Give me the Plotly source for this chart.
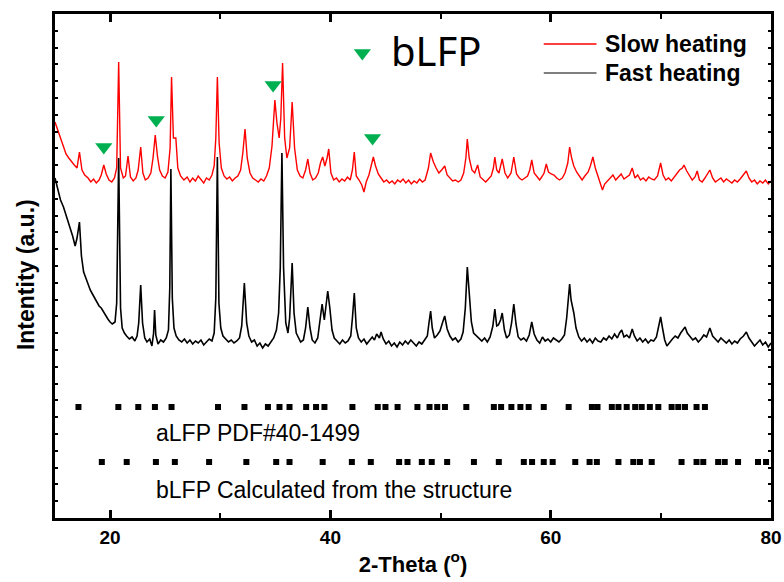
import plotly.graph_objects as go

# ---------------- data ----------------
slow_x = [15.0,15.25,15.5,15.75,16.0,16.25,16.5,16.75,17.0,17.22,17.45,17.7,18.0,18.25,18.5,18.75,19.0,19.2,19.43,19.65,
          19.9,20.15,20.4,20.6,20.78,20.95,21.2,21.4,21.63,21.85,22.1,22.35,22.55,22.78,22.98,23.2,23.45,23.7,23.9,24.1,
          24.3,24.5,24.75,25.0,25.25,25.45,25.58,25.75,25.97,26.15,26.4,26.7,27.0,27.25,27.5,27.75,28.0,28.25,28.5,28.75,
          29.0,29.25,29.45,29.6,29.74,29.9,30.1,30.35,30.6,30.85,31.1,31.35,31.6,31.85,32.05,32.25,32.45,32.7,32.95,33.2,
          33.45,33.7,33.95,34.2,34.45,34.7,34.96,35.15,35.35,35.5,35.66,35.85,36.05,36.3,36.53,36.75,37.0,37.25,37.5,37.75,
          37.95,38.15,38.4,38.65,38.9,39.1,39.3,39.5,39.7,39.85,40.05,40.3,40.55,40.8,41.05,41.3,41.55,41.8,42.0,42.17,
          42.35,42.6,42.85,43.05,43.25,43.5,43.7,43.9,44.1,44.35,44.6,44.85,45.1,45.35,45.6,45.85,46.1,46.35,46.6,46.85,
          47.1,47.35,47.6,47.85,48.1,48.35,48.6,48.9,49.1,49.35,49.6,49.85,50.1,50.38,50.6,50.85,51.1,51.35,51.6,51.85,
          52.1,52.3,52.43,52.6,52.85,53.1,53.37,53.6,53.85,54.1,54.35,54.6,54.8,54.93,55.1,55.3,55.6,55.85,56.1,56.4,
          56.65,56.9,57.15,57.4,57.65,57.9,58.1,58.28,58.5,58.75,59.0,59.25,59.4,59.6,59.8,60.05,60.3,60.55,60.8,61.05,
          61.3,61.55,61.72,61.9,62.1,62.35,62.6,62.85,63.1,63.4,63.6,63.83,64.05,64.3,64.5,64.7,64.9,65.15,65.4,65.65,
          65.9,66.15,66.4,66.65,66.9,67.15,67.4,67.65,67.9,68.15,68.4,68.65,68.9,69.15,69.4,69.7,69.98,70.2,70.45,70.7,
          70.95,71.2,71.45,71.7,71.95,72.1,72.35,72.6,72.85,73.1,73.3,73.5,73.75,74.0,74.2,74.45,74.7,74.95,75.2,75.45,
          75.7,75.95,76.2,76.45,76.7,76.95,77.2,77.5,77.76,78.0,78.25,78.5,78.75,79.0,79.25,79.5,79.75,80.0]
slow_y = [396,388,380,372,364,360,356,353,350,366,348,343,340,336,339,335,338,343,353,344,
          338,336,340,350,456,350,340,342,362,341,337,340,348,371,345,338,340,345,360,383,
          362,348,342,340,346,370,441,380,380,350,342,338,341,336,340,337,342,338,335,340,
          338,343,352,380,441,375,350,342,339,341,337,340,342,348,365,389,360,345,340,338,
          336,339,337,342,350,372,418,395,380,400,455,380,360,370,416,370,348,342,340,348,
          359,345,338,340,345,355,361,352,360,369,345,338,340,336,339,337,341,338,348,366,
          342,338,333,326,336,343,352,361,352,344,340,336,338,335,337,334,338,336,339,335,
          338,334,337,335,339,336,338,350,365,356,350,345,348,352,343,340,337,338,336,338,
          345,360,379,360,348,345,353,341,338,336,339,342,350,361,348,345,359,345,340,345,
          361,344,340,338,340,342,348,358,345,341,338,342,345,354,346,344,343,340,338,340,
          345,355,371,360,352,346,342,338,342,346,352,361,350,342,336,328,334,337,340,343,
          338,341,344,339,341,343,350,340,343,338,340,337,341,339,338,342,355,343,338,340,
          337,341,344,348,350,353,347,342,338,341,347,338,336,340,343,348,340,336,338,340,
          336,339,337,335,338,336,339,343,347,340,336,338,334,337,335,338,334,337]

fast_x = [15.0,15.25,15.5,15.77,16.0,16.2,16.38,16.6,16.83,17.0,17.22,17.4,17.6,17.8,18.0,18.2,18.4,18.6,18.8,19.0,
          19.2,19.4,19.6,19.8,20.0,20.2,20.45,20.6,20.78,20.95,21.1,21.3,21.5,21.75,22.0,22.25,22.45,22.6,22.78,22.95,
          23.15,23.35,23.6,23.8,23.95,24.04,24.15,24.35,24.6,24.85,25.1,25.3,25.42,25.52,25.65,25.8,26.0,26.25,26.5,26.75,
          27.0,27.25,27.5,27.75,28.0,28.25,28.5,28.75,29.0,29.25,29.45,29.6,29.74,29.88,30.05,30.25,30.5,30.75,31.0,31.25,
          31.5,31.75,31.95,32.19,32.4,32.6,32.85,33.1,33.35,33.6,33.85,34.1,34.35,34.6,34.85,35.1,35.3,35.45,35.6,35.75,
          35.95,36.15,36.3,36.53,36.7,36.9,37.1,37.3,37.55,37.75,37.95,38.15,38.35,38.6,38.85,39.05,39.25,39.45,39.6,39.76,
          39.95,40.15,40.35,40.6,40.85,41.1,41.35,41.6,41.85,42.0,42.17,42.35,42.55,42.8,43.05,43.3,43.55,43.8,44.0,44.2,
          44.45,44.6,44.8,45.05,45.3,45.55,45.8,46.05,46.3,46.55,46.8,47.05,47.3,47.55,47.8,48.05,48.3,48.55,48.8,48.95,
          49.1,49.25,49.45,49.7,49.95,50.2,50.38,50.6,50.85,51.1,51.35,51.6,51.85,52.05,52.25,52.43,52.6,52.8,53.0,53.25,
          53.5,53.75,54.0,54.25,54.5,54.75,54.93,55.1,55.25,55.45,55.6,55.8,56.0,56.25,56.45,56.65,56.85,57.05,57.3,57.55,
          57.8,58.05,58.28,58.5,58.75,59.0,59.25,59.5,59.75,60.0,60.25,60.5,60.75,61.0,61.25,61.45,61.6,61.72,61.85,62.1,
          62.3,62.55,62.8,63.05,63.3,63.55,63.8,64.05,64.3,64.55,64.8,65.05,65.3,65.55,65.8,66.05,66.25,66.45,66.65,66.9,
          67.15,67.4,67.6,67.85,68.1,68.35,68.6,68.85,69.1,69.35,69.6,69.8,69.98,70.15,70.35,70.55,70.8,71.05,71.3,71.55,
          71.8,72.0,72.2,72.4,72.65,72.9,73.15,73.4,73.65,73.9,74.15,74.45,74.7,74.95,75.2,75.45,75.7,75.95,76.2,76.45,
          76.7,76.95,77.2,77.5,77.76,78.0,78.25,78.5,78.75,79.0,79.25,79.5,79.75,80.0]
fast_y = [340,328,318,311,303,296,291,282,272,280,296,262,246,240,233,228,224,220,216,212,
          210,206,203,199,196,194,196,215,360,210,190,185,182,179,181,177,182,195,233,195,
          180,176,179,172,185,208,183,174,178,176,180,188,230,349,220,190,182,178,176,179,
          175,178,174,177,175,178,173,176,179,177,185,220,361,215,190,182,179,176,178,175,
          177,180,192,235,195,182,176,178,172,175,170,174,172,176,180,188,205,250,365,250,
          195,185,200,255,205,185,180,176,178,190,211,190,178,175,180,195,214,198,212,227,
          210,188,180,177,174,178,175,177,182,200,225,190,180,176,179,174,177,181,178,184,
          180,186,179,174,177,172,175,171,176,173,177,174,178,175,172,176,174,178,182,195,
          207,190,180,183,187,196,202,189,182,178,180,176,179,186,210,251,222,196,185,182,
          179,177,180,176,181,192,209,192,193,198,205,188,180,183,195,214,194,181,178,180,
          177,183,196,184,178,175,181,177,179,176,180,178,176,179,183,200,222,234,218,205,
          190,181,177,180,176,179,175,180,177,176,180,178,182,179,184,180,185,188,181,183,
          180,189,182,177,180,176,179,175,178,177,181,190,201,190,178,172,176,179,182,180,
          185,188,191,185,181,178,180,176,179,183,181,190,182,179,176,180,177,175,178,174,
          177,175,179,182,186,180,176,172,175,178,173,176,171,175]

# reference line positions (2-theta)
alfp_pos = [17.13,20.75,22.56,24.07,25.58,29.8,32.2,34.33,35.38,36.29,37.8,38.7,39.46,42.0,44.3,45.0,46.1,47.9,
            49.0,49.7,50.4,52.34,54.84,55.5,56.43,57.25,58.0,59.37,61.63,63.74,64.25,65.55,66.15,66.9,67.67,
            68.26,69.0,69.77,70.98,71.58,72.19,73.24,74.0]
blfp_pos = [19.25,21.51,24.16,25.88,28.99,32.37,35.08,36.29,39.3,41.95,43.67,46.24,47.0,48.3,49.2,50.6,53.03,
            55.29,57.56,58.31,59.37,60.18,62.23,63.53,64.19,66.15,67.5,68.1,69.17,71.88,73.24,73.85,75.2,75.8,
            77.01,78.82,79.55]
alfp_level = 111
blfp_level = 56

# bLFP marker positions on the slow-heating pattern
tri_x = [19.43, 24.19, 34.8, 43.83]
tri_y = [371, 398, 433, 380]

series_names = ["Slow heating", "Fast heating"]
series_colors = ["#ff0000", "#000000"]

fig = go.Figure()
fig.add_trace(go.Scatter(x=slow_x, y=slow_y, mode="lines", name=series_names[0],
                         line=dict(color=series_colors[0], width=1.4), showlegend=False))
fig.add_trace(go.Scatter(x=fast_x, y=fast_y, mode="lines", name=series_names[1],
                         line=dict(color=series_colors[1], width=1.6), showlegend=False))
fig.add_trace(go.Scatter(x=alfp_pos, y=[alfp_level]*len(alfp_pos), mode="markers",
                         marker=dict(symbol="square", size=6, color="black"), showlegend=False))
fig.add_trace(go.Scatter(x=blfp_pos, y=[blfp_level]*len(blfp_pos), mode="markers",
                         marker=dict(symbol="square", size=6, color="black"), showlegend=False))
fig.add_trace(go.Scatter(x=tri_x, y=tri_y, mode="markers",
                         marker=dict(symbol="triangle-down", size=15, color="#00b050"), showlegend=False))
# key for bLFP triangle
fig.add_trace(go.Scatter(x=[42.9], y=[465], mode="markers",
                         marker=dict(symbol="triangle-down", size=15, color="#00b050"), showlegend=False))

# manual legend
for yy, col, name in [(474, series_colors[0], series_names[0]), (445, "#555555", series_names[1])]:
    fig.add_shape(type="line", x0=59.37, x1=64.16, y0=yy, y1=yy, line=dict(color=col, width=1.3))
    fig.add_annotation(x=64.75, y=yy, text="<b>%s</b>" % name, showarrow=False, xanchor="left",
                       yanchor="middle", font=dict(family="Liberation Sans, Arial", size=23, color="black"))

fig.add_annotation(x=45.3, y=468, text="bLFP", showarrow=False, xanchor="left", yanchor="middle",
                   font=dict(family="Noto Sans", size=40, color="black"))
fig.add_annotation(x=24.0, y=85, text="aLFP PDF#40-1499", showarrow=False, xanchor="left", yanchor="middle",
                   font=dict(family="Liberation Sans, Arial", size=23, color="black"))
fig.add_annotation(x=24.0, y=28, text="bLFP Calculated from the structure", showarrow=False, xanchor="left",
                   yanchor="middle", font=dict(family="Liberation Sans, Arial", size=23, color="black"))
# y-axis title
fig.add_annotation(xref="paper", yref="paper", x=-0.0405, y=0.482, text="<b>Intentity (a.u.)</b>",
                   textangle=-90, showarrow=False, xanchor="center", yanchor="middle",
                   font=dict(family="Liberation Sans, Arial", size=23, color="black"))

fig.update_layout(
    width=784, height=582,
    margin=dict(l=55, r=13, t=14, b=64),
    plot_bgcolor="white", paper_bgcolor="white",
    font=dict(family="Liberation Sans, Arial", color="black"),
    xaxis=dict(range=[15, 80], tick0=0, dtick=20, ticks="inside", ticklen=8, tickwidth=2.5,
               tickcolor="black", showgrid=False, zeroline=False, showline=True, linewidth=3,
               linecolor="black", mirror="ticks", automargin=False,
               minor=dict(ticks="inside", ticklen=5, tickwidth=2, dtick=10, tick0=0, tickcolor="black"),
               tickfont=dict(size=19, weight="bold"),
               title=dict(text="<b>2-Theta (<sup>o</sup>)</b>", font=dict(size=22), standoff=10)),
    yaxis=dict(range=[0, 504], tick0=0, dtick=16.8, ticks="inside", ticklen=3, tickwidth=1.5,
               tickcolor="black", showticklabels=False, showgrid=False, zeroline=False, showline=True,
               linewidth=3, linecolor="black", mirror="ticks", automargin=False),
)

fig.write_html("out.html")
